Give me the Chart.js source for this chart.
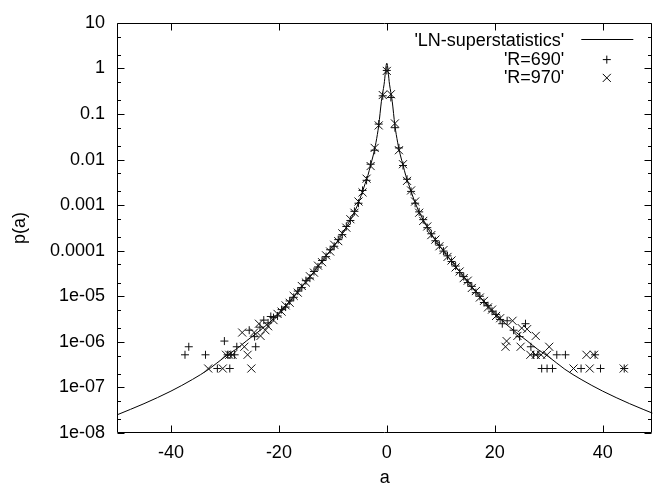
<!DOCTYPE html>
<html><head><meta charset="utf-8">
<script src="https://cdn.jsdelivr.net/npm/chart.js@4.4.0/dist/chart.umd.min.js"></script>
<style>html,body{margin:0;padding:0;background:#fff;}#wrap{width:659px;height:487px;position:relative;}</style>
</head><body><div id="wrap"><canvas id="c"></canvas></div>
<script>
// ---- axis ticks ----
const xTickValues = [-40, -20, 0, 20, 40];
const xTickLabels = ['-40', '-20', '0', '20', '40'];
const yTickValues = [1e-8, 1e-7, 1e-6, 1e-5, 1e-4, 1e-3, 1e-2, 1e-1, 1, 10];
const yTickLabels = ['1e-08', '1e-07', '1e-06', '1e-05', '0.0001', '0.001', '0.01', '0.1', '1', '10'];
const seriesLabels = ["'LN-superstatistics'", "'R=690'", "'R=970'"];

// ---- LN-superstatistics curve ----
const curveA = [-50,-45,-40,-36,-33,-30,-28,-26,-24,-22,-20,-18,-16,-14,-12,-10,-9,-8,-7,-6,-5,-4,-3.5,-3,-2.5,-2,-1.5,-1,-0.5,0,0.5,1,1.5,2,2.5,3,3.5,4,5,6,7,8,9,10,12,14,16,18,20,22,24,26,28,30,33,36,40,45,50];
const curveP = [2.5e-8,4.4e-8,8.3e-8,1.5e-7,2.5e-7,4.7e-7,6.8e-7,1.05e-6,1.6e-6,2.5e-6,4.2e-6,7.6e-6,1.5e-5,2.9e-5,5.9e-5,1.17e-4,1.7e-4,2.6e-4,4.2e-4,7e-4,1.35e-3,3e-3,4.5e-3,7.6e-3,0.0126,0.024,0.056,0.19,0.45,1.3,0.45,0.19,0.056,0.024,0.0126,7.6e-3,4.5e-3,3e-3,1.35e-3,7e-4,4.2e-4,2.6e-4,1.7e-4,1.17e-4,5.9e-5,2.9e-5,1.5e-5,7.6e-6,4.2e-6,2.5e-6,1.6e-6,1.05e-6,6.8e-7,4.7e-7,2.5e-7,1.5e-7,8.3e-8,4.4e-8,2.5e-8];

// ---- histogram data, central bins ----
const binA = [-21,-20.25,-19.5,-18.75,-18,-17.25,-16.5,-15.75,-15,-14.25,-13.5,-12.75,-12,-11.25,-10.5,-9.75,-9,-8.25,-7.5,-6.75,-6,-5.25,-4.5,-3.75,-3,-2.25,-1.5,-0.75,0,0.75,1.5,2.25,3,3.75,4.5,5.25,6,6.75,7.5,8.25,9,9.75,10.5,11.25,12,12.75,13.5,14.25,15,15.75,16.5,17.25,18,18.75,19.5,20.25,21];
const p690 = [3.4e-6,3.7e-6,5.1e-6,5.8e-6,7.9e-6,9.5e-6,1.3e-5,1.55e-5,2.2e-5,2.5e-5,3.5e-5,4.4e-5,6.1e-5,7.4e-5,1.05e-4,1.25e-4,1.75e-4,2.25e-4,3.4e-4,4.6e-4,7.3e-4,1.1e-3,2.1e-3,3.5e-3,7.9e-3,0.016,0.06,0.25,0.9,
  0.23,0.05,0.018,0.0074,0.0037,0.002,0.0011,7.1e-4,4.8e-4,3.2e-4,2.35e-4,1.65e-4,1.32e-4,9.8e-5,7.7e-5,5.8e-5,4.6e-5,3.3e-5,2.7e-5,2.0e-5,1.65e-5,1.2e-5,1.0e-5,7.3e-6,6.2e-6,4.7e-6,4.0e-6,3.1e-6];
const p970 = [3.0e-6,4.1e-6,4.6e-6,6.3e-6,7.2e-6,1.02e-5,1.2e-5,1.68e-5,2.0e-5,2.75e-5,3.3e-5,4.7e-5,5.6e-5,7.9e-5,9.6e-5,1.35e-4,1.62e-4,2.4e-4,3.2e-4,4.9e-4,6.8e-4,1.2e-3,1.9e-3,3.8e-3,7.2e-3,0.018,0.056,0.26,0.88,
  0.27,0.062,0.016,0.0079,0.0034,0.0021,0.0012,6.8e-4,4.5e-4,3.4e-4,2.2e-4,1.75e-4,1.25e-4,1.03e-4,7.3e-5,6.1e-5,4.3e-5,3.5e-5,2.5e-5,2.2e-5,1.52e-5,1.3e-5,9.4e-6,7.9e-6,5.7e-6,5.1e-6,3.7e-6,3.3e-6];

// ---- tails (noisy, few counts) ----
const tailA690 = [-37.4,-36.7,-33.6,-31.4,-29.1,-30.1,-29.5,-28.9,-28.2,-27.8,-24.3,-25.5,-22.8,-24.5,-23.5,-22.0,-21.5,
  21.4,25.7,26.7,28.7,29.7,30.7,31.5,33.1,36.0,38.6,39.6,44.0,27.2,28.0,23.5,22.3,24.6];
const tailP690 = [5.2e-7,7.8e-7,5.2e-7,2.6e-7,2.6e-7,1.04e-6,5.2e-7,5.2e-7,5.2e-7,7.8e-7,7.8e-7,1.8e-6,3.0e-6,1.3e-6,2.1e-6,2.6e-6,3.6e-6,
  2.5e-6,2.5e-6,7.8e-7,2.6e-7,2.6e-7,2.6e-7,5.2e-7,5.2e-7,2.6e-7,5.2e-7,2.6e-7,2.6e-7,5.2e-7,5.2e-7,1.8e-6,2.9e-6,1.3e-6];
const tailA970 = [-33.1,-30.4,-25.1,-29.8,-29.2,-28.6,-25.8,-26.4,-26.8,-23.7,-23.4,-22.5,-24.6,-22.0,
  22.0,22.2,24.8,30.1,26.6,27.6,28.6,29.7,37.0,38.4,34.6,37.6,43.9,27.6,24.2,26.0,23.3,25.0];
const tailP970 = [2.6e-7,2.6e-7,2.6e-7,5.2e-7,5.2e-7,5.2e-7,5.2e-7,7.8e-7,1.6e-6,2.5e-6,1.35e-6,1.8e-6,1.6e-6,2.2e-6,
  7.8e-7,1.04e-6,7.8e-7,7.8e-7,5.2e-7,5.2e-7,5.2e-7,5.2e-7,5.2e-7,5.2e-7,2.6e-7,2.6e-7,2.6e-7,1.35e-6,1.35e-6,1.9e-6,2.9e-6,2.0e-6];

const FONT = '"Liberation Sans", Arial, Helvetica, sans-serif';
const pts = (xs, ys) => xs.map((x, i) => ({x: x, y: ys[i]}));

const framePlugin = {
  id: 'gpFrame',
  afterDraw(chart) {
    const {ctx, chartArea: ca, scales} = chart;
    const xs = scales.x, ys = scales.y;
    ctx.save();
    ctx.strokeStyle = '#000';
    ctx.lineWidth = 1;
    const L = Math.round(ca.left) + 0.5, R = Math.round(ca.right) - 0.5;
    const T = Math.round(ca.top) + 0.5, B = Math.round(ca.bottom) - 0.5;
    ctx.beginPath();
    ctx.rect(L, T, R - L, B - T);
    xTickValues.forEach(v => {
      const px = Math.round(xs.getPixelForValue(v)) + 0.5;
      ctx.moveTo(px, B); ctx.lineTo(px, B - 7);
      ctx.moveTo(px, T); ctx.lineTo(px, T + 7);
    });
    yTickValues.forEach((v, i) => {
      const py = Math.round(ys.getPixelForValue(v)) + 0.5;
      ctx.moveTo(L, py); ctx.lineTo(L + 7, py);
      ctx.moveTo(R, py); ctx.lineTo(R - 7, py);
      if (i < yTickValues.length - 1) {
        [2, 5].forEach(m => {
          const qy = Math.round(ys.getPixelForValue(v * m)) + 0.5;
          ctx.moveTo(L, qy); ctx.lineTo(L + 3.5, qy);
          ctx.moveTo(R, qy); ctx.lineTo(R - 3.5, qy);
        });
      }
    });
    ctx.stroke();
    ctx.restore();
  }
};

const legendPlugin = {
  id: 'gpLegend',
  afterDatasetsDraw(chart) {
    const {ctx, chartArea: ca} = chart;
    ctx.save();
    ctx.font = '18px ' + FONT;
    ctx.fillStyle = '#000';
    ctx.strokeStyle = '#000';
    ctx.lineWidth = 1;
    ctx.textAlign = 'right';
    ctx.textBaseline = 'middle';
    chart.data.datasets.forEach((ds, i) => {
      const y = ca.top + 18.5 + i * 18.3;
      ctx.fillText(ds.label, ca.right - 88, y);
      if (ds.showLine) {
        ctx.beginPath();
        ctx.moveTo(ca.right - 71, Math.round(y - 2) + 0.5);
        ctx.lineTo(ca.right - 19, Math.round(y - 2) + 0.5);
        ctx.stroke();
      } else {
        Chart.helpers.drawPoint(ctx, {pointStyle: ds.pointStyle, radius: ds.pointRadius, borderWidth: 1, rotation: 0}, ca.right - 45.5, y);
      }
    });
    ctx.restore();
  }
};

new Chart(document.getElementById('c'), {
  type: 'scatter',
  data: {
    datasets: [
      {label: seriesLabels[0], data: pts(curveA, curveP), showLine: true, pointRadius: 0, borderColor: '#000', borderWidth: 1, cubicInterpolationMode: 'monotone', fill: false, order: 2},
      {label: seriesLabels[1], data: pts(binA.concat(tailA690), p690.concat(tailP690)), pointStyle: 'cross', pointRadius: 4, borderColor: '#111', backgroundColor: '#111', pointBorderWidth: 1, order: 1},
      {label: seriesLabels[2], data: pts(binA.concat(tailA970), p970.concat(tailP970)), pointStyle: 'crossRot', pointRadius: 5.7, borderColor: '#111', backgroundColor: '#111', pointBorderWidth: 1, order: 0}
    ]
  },
  options: {
    responsive: true,
    maintainAspectRatio: false,
    animation: false,
    devicePixelRatio: 1,
    layout: {padding: {top: 19, right: 1, left: 0, bottom: 0}},
    plugins: {legend: {display: false}, tooltip: {enabled: false}},
    scales: {
      x: {
        type: 'linear', min: -50, max: 49.2,
        grid: {display: false, drawTicks: false},
        border: {display: false},
        afterBuildTicks: s => { s.ticks = xTickValues.map(v => ({value: v})); },
        afterFit: s => { s.height = 54; },
        ticks: {color: '#000', font: {family: FONT, size: 18}, padding: 9, maxRotation: 0, autoSkip: false,
          callback: (v, i) => xTickLabels[i]},
        title: {display: true, text: 'a', color: '#000', font: {family: FONT, size: 18, lineHeight: 1}, padding: {top: 0, bottom: 0}}
      },
      y: {
        type: 'logarithmic', min: 1e-8, max: 10,
        grid: {display: false, drawTicks: false},
        border: {display: false},
        afterBuildTicks: s => { s.ticks = yTickValues.map(v => ({value: v})); },
        afterFit: s => { s.width = 117; },
        ticks: {color: '#000', font: {family: FONT, size: 18}, padding: 12, autoSkip: false,
          callback: (v, i) => yTickLabels[i]},
        title: {display: true, text: 'p(a)', color: '#000', font: {family: FONT, size: 18}, padding: {top: 9, bottom: 0}}
      }
    }
  },
  plugins: [framePlugin, legendPlugin]
});
</script></body></html>
